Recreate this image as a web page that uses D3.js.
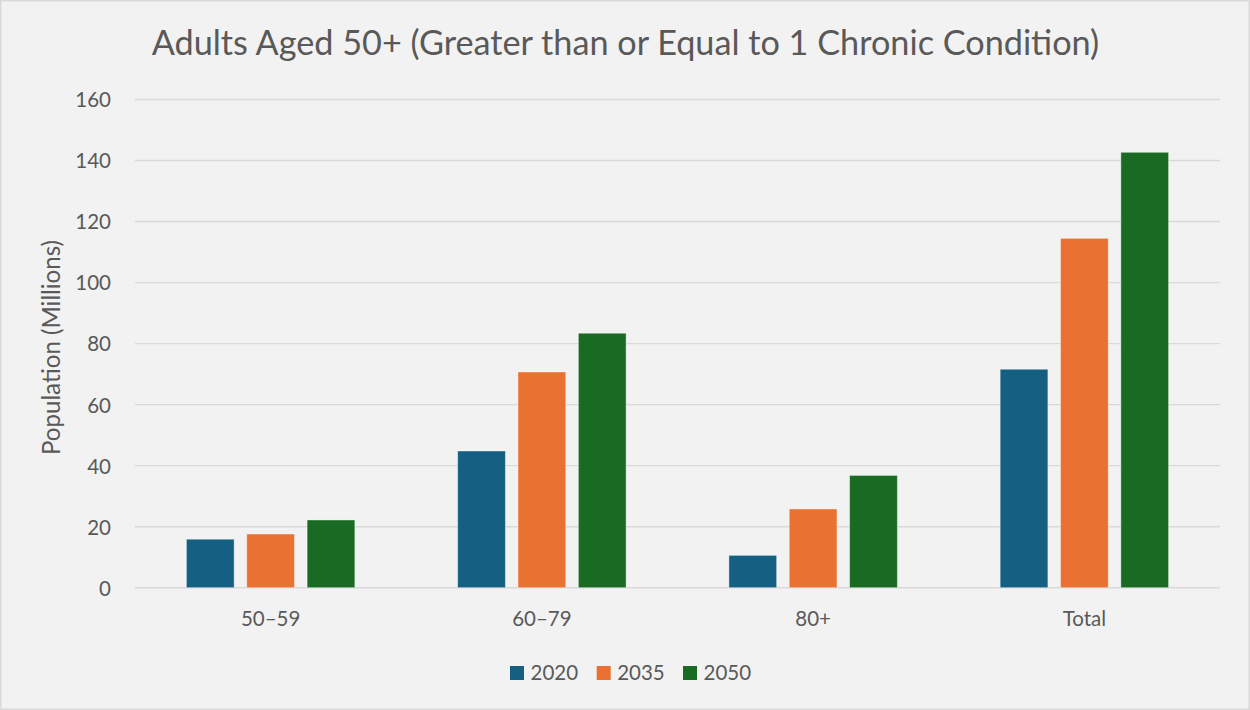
<!DOCTYPE html>
<html>
<head>
<meta charset="utf-8">
<script src="https://cdn.jsdelivr.net/npm/d3@7"></script>
<style>
  html, body { margin: 0; padding: 0; background: #f2f2f2; }
  svg { display: block; }
  text { font-family: Lato, "Open Sans", sans-serif; fill: #595959; }
</style>
</head>
<body>
<svg id="chart" width="1250" height="710"></svg>
<script>
// Age groups along the x axis
const categories = ["50–59", "60–79", "80+", "Total"];
// Projection years (one bar per year in each group)
const years = ["2020", "2035", "2050"];
// Population with ≥1 chronic condition, millions
const values2020 = [15.9, 44.8, 10.6, 71.6];
const values2035 = [17.6, 70.7, 25.8, 114.5];
const values2050 = [22.2, 83.4, 36.8, 142.7];
// Y axis ticks
const yTicks = [0, 20, 40, 60, 80, 100, 120, 140, 160];
const colors = ["#156082", "#E97132", "#196B24"];

const seriesValues = [values2020, values2035, values2050];

const W = 1250, H = 710;
const plot = { left: 135, right: 1220, top: 99.5, bottom: 587.7 };

const svg = d3.select("#chart");

// background and frame
svg.append("rect")
  .attr("x", 0.75).attr("y", 0.75)
  .attr("width", W - 1.5).attr("height", H - 1.5)
  .attr("fill", "#f2f2f2")
  .attr("stroke", "#d9d9d9").attr("stroke-width", 1.5);

const x0 = d3.scaleBand().domain(categories).range([plot.left, plot.right]).padding(0);
const y = d3.scaleLinear().domain([0, 160]).range([plot.bottom, plot.top]);

// bars inside each group: width and spacing relative to the group band
const barW = x0.bandwidth() * 0.176;
const barStep = x0.bandwidth() * 0.2225;
const x1 = d3.scaleOrdinal().domain(years)
  .range(years.map((_, i) => (i - 1) * barStep - barW / 2));

// horizontal gridlines
svg.append("g")
  .selectAll("line")
  .data(yTicks)
  .join("line")
  .attr("x1", plot.left).attr("x2", plot.right)
  .attr("y1", d => y(d)).attr("y2", d => y(d))
  .attr("stroke", "#d9d9d9")
  .attr("stroke-width", 1.4);

// y axis labels
const yAxis = d3.axisLeft(y).tickValues(yTicks).tickSize(0).tickPadding(0);
const gy = svg.append("g")
  .attr("transform", `translate(${plot.left - 24},0)`)
  .call(yAxis);
gy.select(".domain").remove();
gy.selectAll("text")
  .attr("font-size", 20.5)
  .attr("font-family", "Lato, 'Open Sans', sans-serif")
  .attr("fill", "#595959")
  .attr("dy", "0.36em");

// bars
const groups = svg.append("g")
  .selectAll("g")
  .data(categories)
  .join("g")
  .attr("transform", c => `translate(${x0(c) + x0.bandwidth() / 2},0)`);

groups.selectAll("rect")
  .data((c, ci) => years.map((yr, si) => ({ yr, si, v: seriesValues[si][ci] })))
  .join("rect")
  .attr("x", d => x1(d.yr))
  .attr("width", barW)
  .attr("y", d => y(d.v))
  .attr("height", d => y(0) - y(d.v))
  .attr("fill", d => colors[d.si])
  .attr("stroke", "#ffffff")
  .attr("stroke-opacity", 0.45)
  .attr("stroke-width", 0.9);

// x axis labels
const xAxis = d3.axisBottom(x0).tickSize(0).tickPadding(0);
const gx = svg.append("g")
  .attr("transform", `translate(0,${plot.bottom})`)
  .call(xAxis);
gx.select(".domain").remove();
gx.selectAll("text")
  .attr("font-size", 20.5)
  .attr("font-family", "Lato, 'Open Sans', sans-serif")
  .attr("fill", "#595959")
  .attr("y", 38)
  .attr("dy", 0);

// fit a text element's font size so it spans a given width
function fitWidth(sel, base, target) {
  const len = sel.node().getComputedTextLength();
  if (len > 0) sel.attr("font-size", base * Math.min(1.25, Math.max(0.85, target / len)));
}

// title
const title = svg.append("text")
  .attr("x", 625.5).attr("y", 55)
  .attr("text-anchor", "middle")
  .attr("font-size", 32)
  .text("Adults Aged 50+ (Greater than or Equal to 1 Chronic Condition)");
fitWidth(title, 32, 948);

// y axis title
const yTitle = svg.append("text")
  .attr("transform", `translate(60,347.5) rotate(-90)`)
  .attr("text-anchor", "middle")
  .attr("font-size", 22)
  .text("Population (Millions)");
fitWidth(yTitle, 22, 215);

// legend
const legendX = [510, 596.7, 683];
const legend = svg.append("g")
  .selectAll("g")
  .data(years)
  .join("g")
  .attr("transform", (d, i) => `translate(${legendX[i]},666)`);
legend.append("rect")
  .attr("width", 14).attr("height", 14)
  .attr("fill", (d, i) => colors[i]);
legend.append("text")
  .attr("x", 20.5).attr("y", 14)
  .attr("font-size", 20.5)
  .text(d => d);
</script>
</body>
</html>
